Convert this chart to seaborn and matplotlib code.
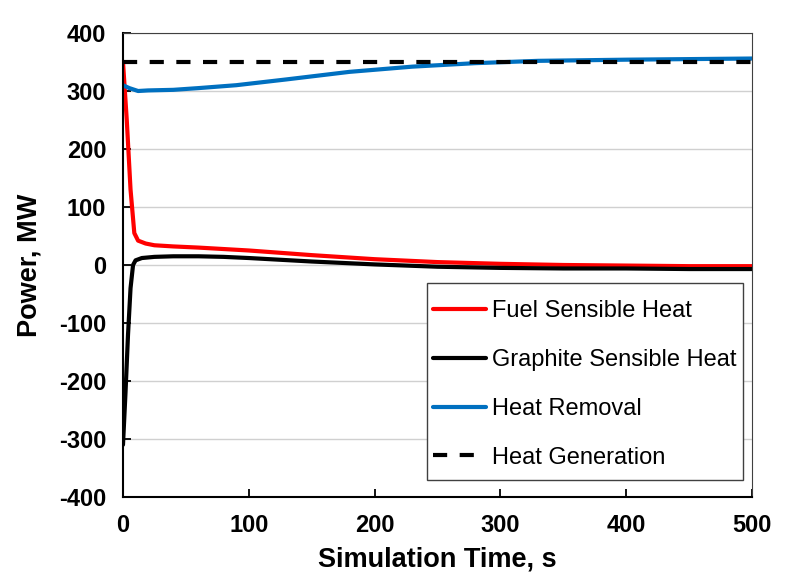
import matplotlib
matplotlib.use("Agg")
import matplotlib.pyplot as plt
from matplotlib.patches import Rectangle
import seaborn as sns
import pandas as pd

# Data
time_fuel = [0, 3, 6, 9, 12, 18, 25, 40, 60, 100, 150, 200, 250, 300, 350, 400, 450, 500]
fuel_heat = [350, 250, 130, 55, 42, 37, 34, 32, 30, 25, 17, 10, 5, 2, 0, -1, -2, -2]

time_graph = [0, 2, 4, 6, 8, 10, 15, 25, 40, 60, 80, 100, 150, 200, 250, 300, 350, 400, 450, 500]
graph_heat = [-310, -220, -120, -40, 0, 8, 12, 14, 15, 15, 14, 12, 6, 1, -3, -5, -6, -6, -7, -7]

time_rem = [0, 5, 12, 20, 40, 60, 90, 130, 180, 230, 280, 330, 400, 450, 500]
heat_rem = [310, 305, 300, 301, 302, 305, 310, 320, 333, 342, 348, 352, 354, 355, 356]

time_gen = [0, 500]
heat_gen = [350, 350]

labels = ["Fuel Sensible Heat", "Graphite Sensible Heat", "Heat Removal", "Heat Generation"]
colors = ["#ff0000", "#000000", "#0070c0", "#000000"]

sns.set_theme(style="white")
plt.rcParams["font.family"] = ["Liberation Sans", "DejaVu Sans"]
plt.rcParams["axes.unicode_minus"] = False
plt.rcParams["text.color"] = "black"
plt.rcParams["axes.labelcolor"] = "black"

fig = plt.figure(figsize=(7.95, 5.75), dpi=100)
ax = fig.add_axes([0.1547, 0.1357, 0.7913, 0.8069])

ax.yaxis.grid(True, color="#d0d0d0", linewidth=1.0)
ax.set_axisbelow(True)

series = [(time_fuel, fuel_heat), (time_graph, graph_heat), (time_rem, heat_rem), (time_gen, heat_gen)]
for (t, v), lab, c in zip(series, labels, colors):
    df = pd.DataFrame({"t": t, "v": v})
    ls = "--" if lab == "Heat Generation" else "-"
    sns.lineplot(data=df, x="t", y="v", ax=ax, color=c, linewidth=3, label=lab,
                 linestyle=ls, estimator=None, sort=False)
ax.lines[-1].set_dashes([3.4, 3.0])

ax.set_xlim(0, 500)
ax.set_ylim(-400, 400)
ax.set_xticks(range(0, 501, 100))
ax.set_yticks(range(-400, 401, 100))
ax.tick_params(axis="both", direction="in", length=6, width=1.3, colors="black",
               labelsize=17, pad=12, bottom=True, left=True)
for lbl in ax.get_xticklabels() + ax.get_yticklabels():
    lbl.set_fontweight("bold")

ax.set_xlabel("Simulation Time, s", fontsize=19.5, fontweight="bold", labelpad=7)
ax.set_ylabel("Power, MW", fontsize=19.5, fontweight="bold", labelpad=12)

for side in ["left", "bottom"]:
    ax.spines[side].set_color("black")
    ax.spines[side].set_linewidth(1.5)
for side in ["top", "right"]:
    ax.spines[side].set_color("#404040")
    ax.spines[side].set_linewidth(0.8)

# legend frame drawn as a box, legend entries centred inside it
box = Rectangle((0.4833, 0.0366), 0.9857 - 0.4833, 0.4612 - 0.0366, transform=ax.transAxes,
                facecolor="white", edgecolor="#404040", linewidth=1.0, zorder=4)
ax.add_patch(box)
leg = ax.legend(loc="center", bbox_to_anchor=(0.7345, 0.2424), fontsize=17,
                frameon=False, handlelength=2.25, handletextpad=0.25,
                labelspacing=1.13, borderpad=0.0, borderaxespad=0)
leg.set_zorder(5)

fig.savefig("out.png", dpi=100)
